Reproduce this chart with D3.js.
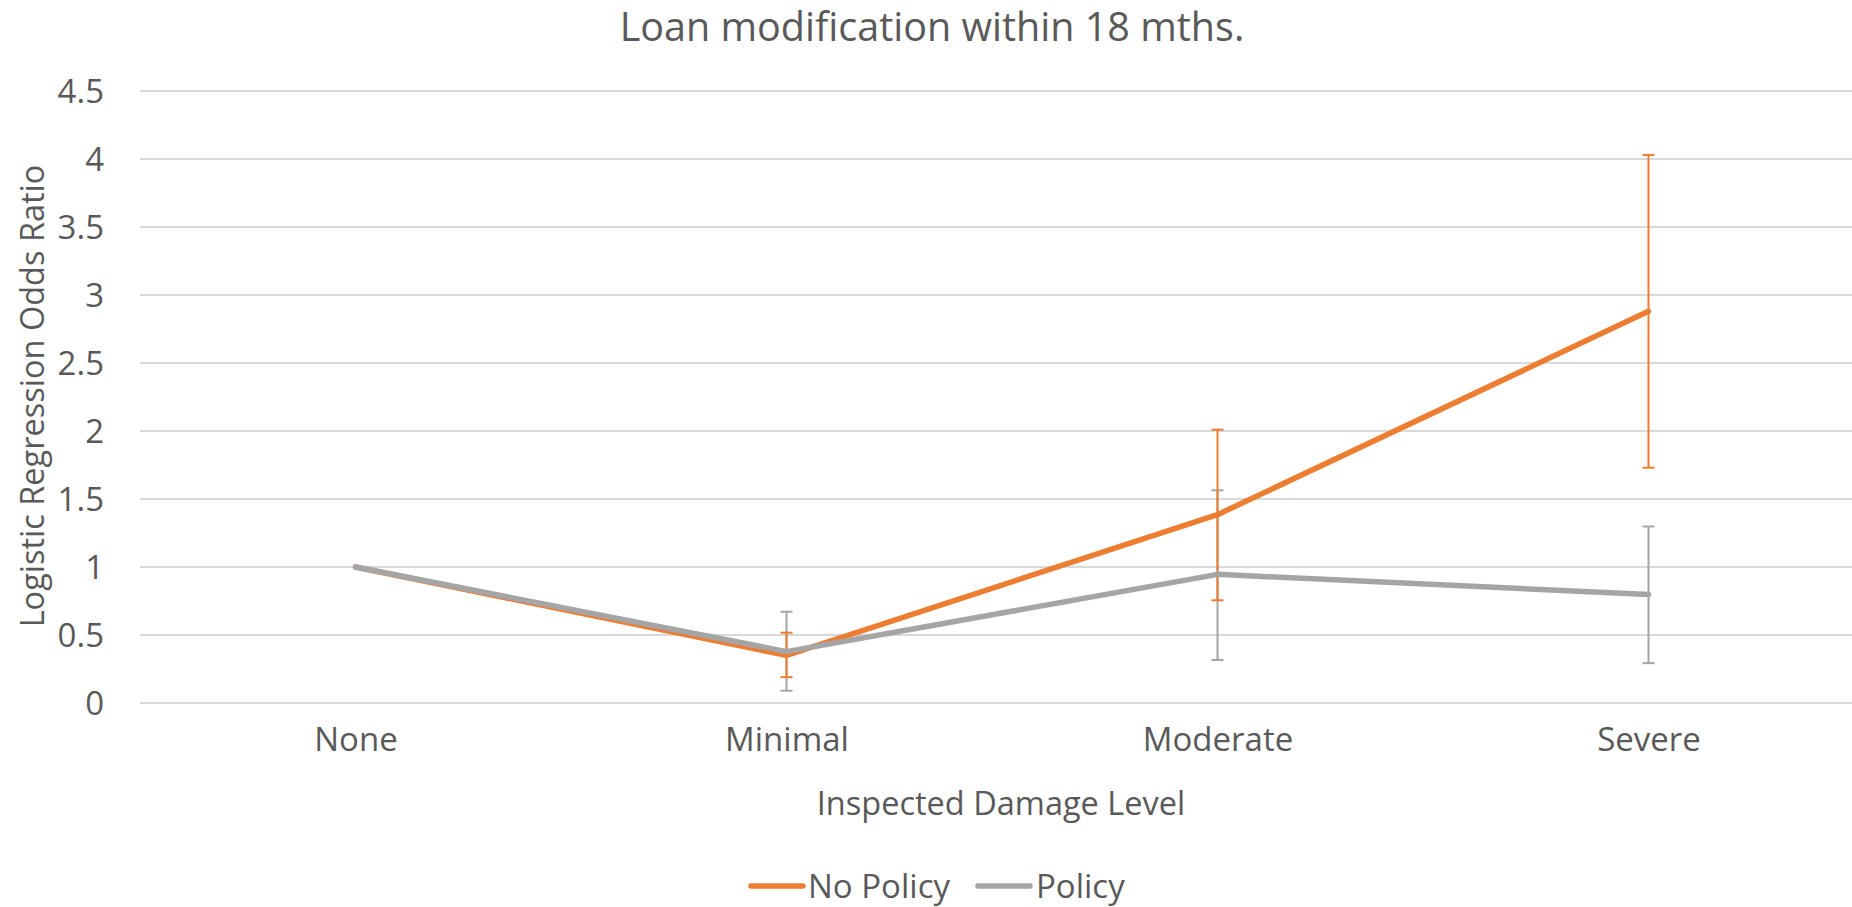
<!DOCTYPE html>
<html>
<head>
<meta charset="utf-8">
<script src="https://cdn.jsdelivr.net/npm/d3@7"></script>
<style>
  html, body { margin: 0; padding: 0; background: #fff; }
  svg { display: block; }
  text { font-family: "Open Sans", sans-serif; fill: #595959; }
</style>
</head>
<body>
<svg id="chart" width="1852" height="907"></svg>
<script>
const categories = ["None", "Minimal", "Moderate", "Severe"];
const seriesNames = ["No Policy", "Policy"];
const noPolicy     = [1, 0.35, 1.385, 2.88];
const noPolicyLow  = [null, 0.19, 0.755, 1.73];
const noPolicyHigh = [null, 0.517, 2.01, 4.03];
const policy       = [1, 0.378, 0.946, 0.797];
const policyLow    = [null, 0.09, 0.316, 0.293];
const policyHigh   = [null, 0.671, 1.564, 1.298];
const yTicks = [0, 0.5, 1, 1.5, 2, 2.5, 3, 3.5, 4, 4.5];
const colors = ["#ED7D31", "#A5A5A5"];

const svg = d3.select("#chart");
const W = 1852, H = 907;
const plot = { left: 140, right: 1864, top: 91, bottom: 703 };

const x = d3.scalePoint().domain(categories).range([plot.left, plot.right]).padding(0.5);
const y = d3.scaleLinear().domain([0, 4.5]).range([plot.bottom, plot.top]);

// gridlines
svg.append("g").selectAll("line").data(yTicks).join("line")
  .attr("x1", plot.left).attr("x2", W)
  .attr("y1", d => y(d)).attr("y2", d => y(d))
  .attr("stroke", "#D9D9D9").attr("stroke-width", 2);

// y axis labels
const yAxis = d3.axisLeft(y).tickValues(yTicks).tickSize(0).tickPadding(0)
  .tickFormat(d => String(d));
const gy = svg.append("g").attr("transform", `translate(104,0)`).call(yAxis);
gy.select(".domain").remove();
gy.selectAll("text").attr("font-size", 33).attr("font-family", "Open Sans").attr("fill", "#595959").attr("dy", "0.34em");

// x axis labels
const xAxis = d3.axisBottom(x).tickSize(0).tickPadding(0);
const gx = svg.append("g").attr("transform", `translate(0,740)`).call(xAxis);
gx.select(".domain").remove();
gx.selectAll("text").attr("font-size", 33).attr("font-family", "Open Sans").attr("fill", "#595959").attr("dy", "0.34em");

const series = [
  { name: seriesNames[0], vals: noPolicy, low: noPolicyLow, high: noPolicyHigh, color: colors[0] },
  { name: seriesNames[1], vals: policy, low: policyLow, high: policyHigh, color: colors[1] }
];

function drawErr(s) {
  const g = svg.append("g");
  const pts = categories.map((c, i) => ({ c, lo: s.low[i], hi: s.high[i] })).filter(d => d.lo != null);
  g.selectAll("line.v").data(pts).join("line").attr("class", "v")
    .attr("x1", d => x(d.c)).attr("x2", d => x(d.c))
    .attr("y1", d => y(d.lo)).attr("y2", d => y(d.hi))
    .attr("stroke", s.color).attr("stroke-width", 2);
  ["lo", "hi"].forEach(k => {
    g.selectAll("line." + k).data(pts).join("line").attr("class", k)
      .attr("x1", d => x(d.c) - 6).attr("x2", d => x(d.c) + 6)
      .attr("y1", d => y(d[k])).attr("y2", d => y(d[k]))
      .attr("stroke", s.color).attr("stroke-width", 2);
  });
}
drawErr(series[1]);
drawErr(series[0]);

const line = d3.line().x((d, i) => x(categories[i])).y(d => y(d));
series.forEach(s => {
  svg.append("path").datum(s.vals).attr("d", line)
    .attr("fill", "none").attr("stroke", s.color).attr("stroke-width", 5.5)
    .attr("stroke-linejoin", "round").attr("stroke-linecap", "round");
});

// title
svg.append("text").attr("x", 932).attr("y", 27).attr("dy", "0.35em")
  .attr("text-anchor", "middle").attr("font-size", 39.5).text("Loan modification within 18 mths.");

// axis titles
svg.append("text").attr("x", 1001).attr("y", 804).attr("dy", "0.35em")
  .attr("text-anchor", "middle").attr("font-size", 32.5).text("Inspected Damage Level");
svg.append("text").attr("transform", "translate(33,396) rotate(-90)").attr("dy", "0.35em")
  .attr("text-anchor", "middle").attr("font-size", 32.5).text("Logistic Regression Odds Ratio");

// legend
const legendPos = [{ lx: 751, tx: 808 }, { lx: 978, tx: 1036 }];
series.forEach((s, i) => {
  const p = legendPos[i];
  svg.append("line").attr("x1", p.lx).attr("x2", p.lx + 52).attr("y1", 886).attr("y2", 886)
    .attr("stroke", s.color).attr("stroke-width", 5.5).attr("stroke-linecap", "round");
  svg.append("text").attr("x", p.tx).attr("y", 886).attr("dy", "0.35em")
    .attr("font-size", 33).text(s.name);
});
</script>
</body>
</html>
